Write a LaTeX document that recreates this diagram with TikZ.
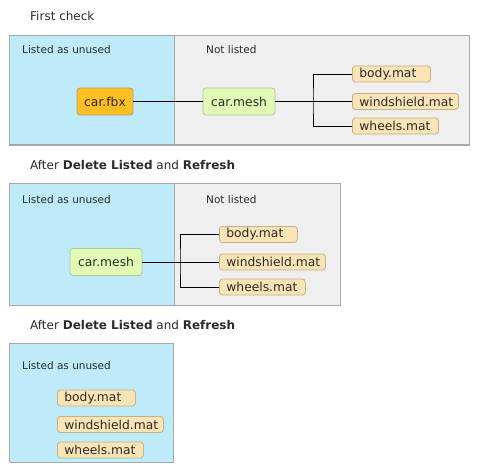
\documentclass[tikz,border=0pt]{standalone}
\usepackage{fontspec}
\setmainfont{DejaVu Sans}
\usetikzlibrary{positioning}
\definecolor{unusedblue}{HTML}{BDEBFA}
\definecolor{listedgray}{HTML}{EFEFEF}
\definecolor{panelline}{HTML}{A8A8A8}
\definecolor{matfill}{HTML}{FAE4B6}
\definecolor{matline}{HTML}{C4B088}
\definecolor{fbxfill}{HTML}{FFBE22}
\definecolor{fbxline}{HTML}{B0A070}
\definecolor{meshfill}{HTML}{E2FBB4}
\definecolor{meshline}{HTML}{B0C498}
\definecolor{inktext}{HTML}{2A2A2A}
\tikzset{
    filebox/.style={draw, line width=0.8pt, rounded corners=3pt, inner ysep=0pt,
        text=inktext, font=\fontsize{12.3}{14}\selectfont},
    matbox/.style={filebox, fill=matfill, draw=matline, anchor=west,
        inner xsep=7pt, minimum height=16pt, text width=#1, align=left},
    fbxbox/.style={filebox, fill=fbxfill, draw=fbxline, minimum width=56pt, minimum height=27pt},
    meshbox/.style={filebox, fill=meshfill, draw=meshline, minimum width=72pt, minimum height=27pt},
    panel/.style={draw=panelline, line width=1pt},
    paneltitle/.style={anchor=base west, inner sep=0pt, text=inktext, font=\fontsize{10.5}{12}\selectfont},
    steptitle/.style={anchor=base west, inner sep=0pt, text=inktext, font=\fontsize{12}{14}\selectfont},
    wire/.style={draw=black, line width=0.8pt}
}
\begin{document}
\begin{tikzpicture}[x=1pt, y=-1pt]
    \useasboundingbox (0,0) rectangle (479,476);
    % first check
    \node[steptitle] (title1) at (30,21) {First check};
    \draw[panel, fill=unusedblue] (9,36) rectangle (174,145);
    \draw[panel, fill=listedgray] (174,36) rectangle (469,145);
    \node[paneltitle] (unused1) at (22,54) {Listed as unused};
    \node[paneltitle] (notlisted1) at (206,54) {Not listed};
    \node[fbxbox] (fbx1) at (105,101.5) {car.fbx};
    \node[meshbox] (mesh1) at (239,101.5) {car.mesh};
    \node[matbox=64pt] (body1) at (352,74) {body.mat};
    \node[matbox=92pt] (windshield1) at (352,101.5) {windshield.mat};
    \node[matbox=72pt] (wheels1) at (352,126) {wheels.mat};
    \coordinate (fork1) at (313,101.5);
    \draw[wire] (fbx1) -- (mesh1);
    \draw[wire] (mesh1) -- (windshield1);
    \draw[wire] (body1.west) -| (fork1) |- (wheels1.west);
    % after first delete
    \node[steptitle] (title2) at (30,169) {After \textbf{Delete Listed} and \textbf{Refresh}};
    \draw[panel, fill=unusedblue] (9,183) rectangle (174,305);
    \draw[panel, fill=listedgray] (174,183) rectangle (340,305);
    \node[paneltitle] (unused2) at (22,203) {Listed as unused};
    \node[paneltitle] (notlisted2) at (206,203) {Not listed};
    \node[meshbox] (mesh2) at (106,262) {car.mesh};
    \node[matbox=64pt] (body2) at (219,234.5) {body.mat};
    \node[matbox=92pt] (windshield2) at (219,262) {windshield.mat};
    \node[matbox=72pt] (wheels2) at (219,287) {wheels.mat};
    \coordinate (fork2) at (180,262);
    \draw[wire] (mesh2) -- (windshield2);
    \draw[wire] (body2.west) -| (fork2) |- (wheels2.west);
    % after second delete
    \node[steptitle] (title3) at (30,329) {After \textbf{Delete Listed} and \textbf{Refresh}};
    \draw[panel, fill=unusedblue] (9,343) rectangle (173,462);
    \node[paneltitle] (unused3) at (22,369) {Listed as unused};
    \node[matbox=64pt] (body3) at (57,398) {body.mat};
    \node[matbox=92pt] (windshield3) at (57,424.5) {windshield.mat};
    \node[matbox=72pt] (wheels3) at (57,450) {wheels.mat};
\end{tikzpicture}
\end{document}
